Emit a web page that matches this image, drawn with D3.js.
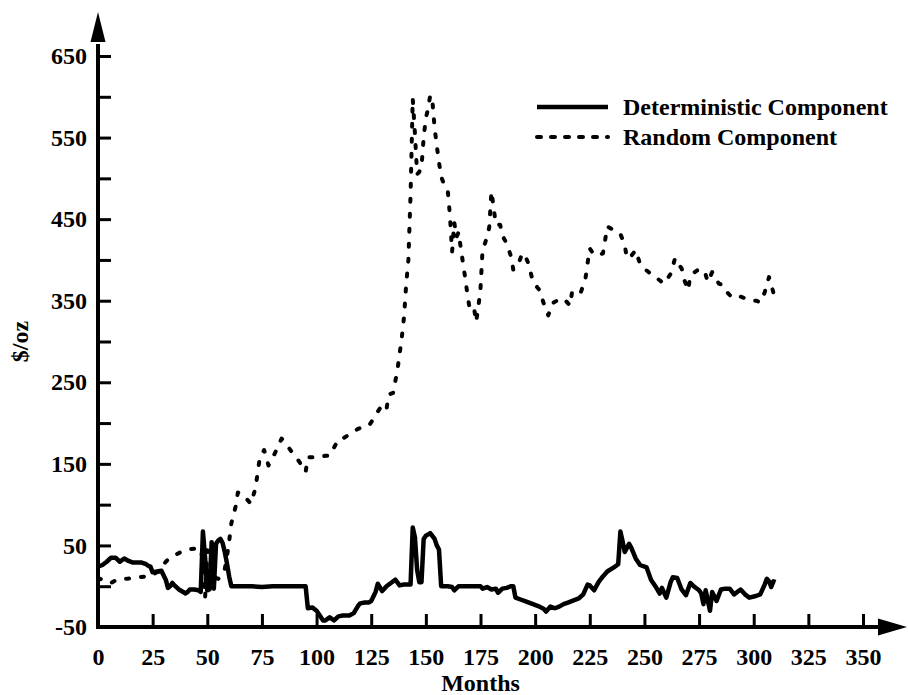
<!DOCTYPE html>
<html>
<head>
<meta charset="utf-8">
<script src="https://cdn.jsdelivr.net/npm/d3@7"></script>
<style>
  html, body { margin: 0; padding: 0; background: #fff; }
  svg { display: block; }
  text { font-family: 'Liberation Serif', 'Times New Roman', serif; font-weight: bold; fill: #000; }
</style>
</head>
<body>
<div id="chart"></div>
<script>
// months / values
const detMonths = [0, 2, 4, 6, 8, 10, 12, 14, 16, 18, 20, 22, 23, 24, 25, 27, 29, 31, 32, 33, 34, 35, 37, 39, 40, 41, 42, 44, 46, 47,
  48, 49, 50, 51, 52, 53, 54, 55, 56, 57, 58, 59, 60, 61, 65, 70, 75, 80, 85, 90, 95,
  96, 98, 100, 101, 103, 104, 106, 108, 110, 112, 115, 117, 119, 120, 122, 124, 125, 127, 128, 130, 131, 132, 134, 136, 138, 140, 143,
  144, 145, 146, 147, 148, 149, 150, 152, 154, 155, 156, 157, 160, 162, 163, 165, 170, 175, 176, 178, 180, 182, 183, 185, 187, 189, 190,
  191, 193, 196, 199, 202, 204, 205, 207, 209, 211, 213, 215, 217, 220, 222, 224, 225, 227, 229, 231, 233, 236, 238,
  239, 240, 241, 243, 244, 246, 248, 251, 253, 255, 257, 258, 260, 262, 263, 265, 267, 269, 271, 273, 275, 276, 277, 278, 280, 281,
  283, 285, 287, 289, 291, 294, 296, 298, 301, 303, 305, 306, 307, 308, 309, 310];
const detValues = [24, 26, 30, 35, 35, 30, 34, 31, 29, 29, 29, 27, 25, 24, 17, 18, 19, 8, -2, 0, 4, 1, -4, -7, -9, -7, -4, -4, -5, -7,
  67, 35, -5, -4, 54, -3, 52, 56, 58, 53, 42, 28, 12, 0, 0, 0, -1, 0, 0, 0, 0,
  -27, -26, -30, -34, -42, -42, -38, -42, -37, -36, -36, -33, -24, -21, -20, -20, -18, -7, 3, -6, -3, 0, 4, 8, 1, 2, 2,
  72, 60, 20, 5, 5, 58, 62, 65, 58, 50, 45, 0, 0, -1, -5, 0, 0, 0, -3, -1, -4, -3, -8, -3, -2, 0, 0,
  -14, -16, -19, -22, -25, -28, -31, -25, -27, -25, -22, -20, -18, -15, -10, 2, 1, -5, 5, 12, 18, 23, 27,
  67, 55, 42, 52, 47, 34, 26, 23, 8, 0, -9, -2, -14, 5, 11, 10, -4, -11, 4, -1, -5, -9, -22, -5, -30, -7,
  -18, -4, -3, -3, -10, -4, -10, -14, -12, -10, 2, 9, 6, -1, 6, 5];

const rndMonths = [0, 2, 4, 6, 8, 10, 13, 16, 19, 22, 24, 28, 31, 33, 35, 38, 41, 44, 47, 48, 49, 50, 51, 52, 53, 54, 55, 56, 57, 58, 59,
  60, 61, 63, 64, 66, 68, 70, 72, 73, 74, 76, 78, 80, 82, 84, 86, 88, 90, 92, 95, 96, 98, 101, 104, 106, 108, 110, 112, 115, 119, 122,
  124, 126, 128, 130, 132, 133, 135, 137, 138, 139, 140, 141, 142, 143, 144, 145, 146, 147, 148, 149, 150, 151, 152, 153, 154, 155,
  156, 157, 158, 159, 160, 161, 162, 163, 164, 165, 166, 167, 168, 169, 170, 171, 172, 173, 174, 175, 176, 177, 178, 179, 180, 181,
  182, 184, 185, 187, 189, 190, 192, 194, 195, 197, 199, 202, 204, 206, 208, 210, 212, 214, 216, 217, 219, 221, 223, 224, 225, 227,
  229, 231, 232, 233, 235, 237, 239, 241, 242, 244, 246, 248, 250, 253, 256, 259, 262, 264, 265, 267, 268, 270, 271, 274, 276, 278,
  279, 281, 284, 286, 288, 290, 292, 294, 297, 299, 301, 303, 305, 306, 307, 309];
const rndValues = [10, 8, 5, 4, 7, 9, 9, 10, 11, 12, 12, 19, 30, 35, 38, 42, 45, 46, 46, 30, -14, 44, 38, 25, 15, 10, 9, 11, 16, 21, 36,
  55, 77, 98, 115, 113, 107, 101, 120, 138, 157, 167, 148, 158, 169, 181, 175, 167, 160, 153, 140, 158, 158, 158, 160, 160, 170, 180, 181, 186, 193, 196,
  197, 205, 214, 222, 217, 235, 237, 265, 285, 305, 330, 370, 400, 480, 598, 555, 505, 508, 514, 550, 574, 585, 602, 595, 562, 540,
  520, 502, 495, 490, 486, 455, 410, 446, 428, 434, 414, 396, 378, 358, 341, 340, 342, 324, 342, 365, 415, 420, 428, 440, 484, 465,
  443, 443, 430, 420, 404, 388, 393, 407, 408, 395, 373, 363, 346, 332, 347, 350, 353, 350, 344, 363, 362, 361, 377, 396, 414, 406,
  406, 408, 424, 441, 438, 436, 432, 418, 402, 405, 412, 395, 389, 383, 377, 371, 383, 402, 396, 390, 377, 363, 381, 387, 389, 382,
  373, 385, 371, 369, 360, 354, 354, 355, 352, 350, 350, 348, 360, 370, 379, 360];

const xTicks = d3.range(0, 351, 25);
const yTicks = d3.range(-50, 651, 50);
const legendLabels = ['Deterministic Component', 'Random Component'];

const width = 908;
const height = 695;
const margin = { top: 56, right: 45, bottom: 68, left: 98 };

const svg = d3.select('#chart')
  .append('svg')
  .attr('width', width)
  .attr('height', height);

const x = d3.scaleLinear()
  .domain([0, 350])
  .range([margin.left, width - margin.right]);

const y = d3.scaleLinear()
  .domain([-50, 650])
  .range([height - margin.bottom, margin.top]);

const toPoints = (months, values) => months.map((m, i) => [m, values[i]]);

const line = d3.line()
  .x(d => x(d[0]))
  .y(d => y(d[1]));

// axes: ticks point inward, domain drawn separately with arrows
const xAxis = d3.axisBottom(x)
  .tickValues(xTicks)
  .tickSizeInner(-13)
  .tickSizeOuter(0)
  .tickPadding(21);

const yAxis = d3.axisLeft(y)
  .tickValues(yTicks)
  .tickSizeInner(-13)
  .tickSizeOuter(0)
  .tickPadding(11)
  .tickFormat(d => ((d + 50) % 100 === 0 ? d : ''));

const gx = svg.append('g')
  .attr('transform', `translate(0,${y(-50)})`)
  .call(xAxis);

const gy = svg.append('g')
  .attr('transform', `translate(${x(0)},0)`)
  .call(yAxis);

[gx, gy].forEach(g => {
  g.select('.domain').remove();
  g.selectAll('.tick line').attr('stroke', '#000').attr('stroke-width', 3);
  g.selectAll('.tick text')
    .attr('font-size', 24)
    .attr('font-family', 'Liberation Serif')
    .attr('font-weight', 'bold')
    .attr('fill', '#000');
});

const x0 = x(0);
const y0 = y(-50);
const xEnd = x.range()[1];
const yEnd = y.range()[1];

svg.append('line')
  .attr('x1', x0 - 2).attr('y1', y0)
  .attr('x2', xEnd + 18).attr('y2', y0)
  .attr('stroke', '#000').attr('stroke-width', 4);

svg.append('line')
  .attr('x1', x0).attr('y1', y0 + 2)
  .attr('x2', x0).attr('y2', yEnd - 12)
  .attr('stroke', '#000').attr('stroke-width', 4);

svg.append('path')
  .attr('d', `M${xEnd + 15},${y0 - 8.5}L${xEnd + 44},${y0}L${xEnd + 15},${y0 + 8.5}Z`)
  .attr('fill', '#000');

svg.append('path')
  .attr('d', `M${x0 - 7.5},${yEnd - 14}L${x0},${yEnd - 44}L${x0 + 7.5},${yEnd - 14}Z`)
  .attr('fill', '#000');

// series
svg.append('path')
  .datum(toPoints(detMonths, detValues))
  .attr('d', line)
  .attr('fill', 'none')
  .attr('stroke', '#000')
  .attr('stroke-width', 4.5)
  .attr('stroke-linejoin', 'round');

svg.append('path')
  .datum(toPoints(rndMonths, rndValues))
  .attr('d', line)
  .attr('fill', 'none')
  .attr('stroke', '#000')
  .attr('stroke-width', 4)
  .attr('stroke-dasharray', '3,12')
  .attr('stroke-linecap', 'round')
  .attr('stroke-linejoin', 'round');

// axis titles
svg.append('text')
  .attr('x', (x0 + xEnd) / 2)
  .attr('y', 691)
  .attr('text-anchor', 'middle')
  .attr('font-size', 24)
  .text('Months');

svg.append('text')
  .attr('transform', `translate(20,${(y0 + yEnd) / 2}) rotate(-90)`)
  .attr('text-anchor', 'middle')
  .attr('dy', '0.35em')
  .attr('font-size', 24)
  .text('$/oz');

// legend
const legend = svg.append('g')
  .attr('transform', 'translate(537,107)');

legendLabels.forEach((label, i) => {
  const g = legend.append('g').attr('transform', `translate(0,${i * 30})`);
  g.append('line')
    .attr('x1', 0).attr('x2', 71)
    .attr('stroke', '#000')
    .attr('stroke-width', i === 0 ? 4.5 : 4)
    .attr('stroke-dasharray', i === 0 ? null : '4,10')
    .attr('stroke-linecap', i === 0 ? 'butt' : 'round');
  g.append('text')
    .attr('x', 86)
    .attr('dy', '0.33em')
    .attr('font-size', 24)
    .text(label);
});
</script>
</body>
</html>
